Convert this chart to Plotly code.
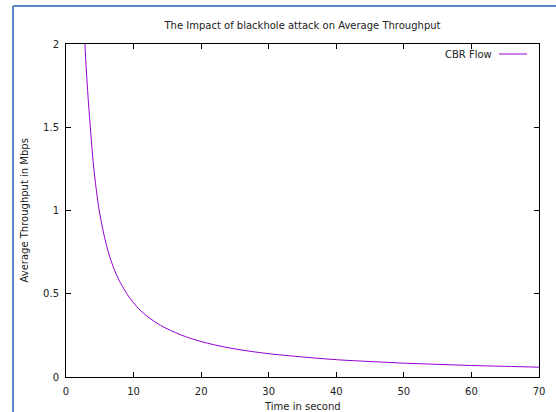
import plotly.graph_objects as go

# Data
time_s = [2.5, 2.8, 3.2, 3.6, 4, 4.5, 5, 6, 7, 8, 9, 10, 11, 12, 14, 17, 20,
          24, 29, 34, 40, 45, 50, 55, 60, 65, 70]
throughput = [2.4, 2.0, 1.72, 1.5, 1.3, 1.12, 0.98, 0.79, 0.66, 0.57, 0.50, 0.445,
              0.40, 0.365, 0.31, 0.253, 0.213, 0.176, 0.145, 0.124, 0.104, 0.093,
              0.083, 0.076, 0.069, 0.064, 0.059]
x_ticks = [0, 10, 20, 30, 40, 50, 60, 70]
y_ticks = [0, 0.5, 1, 1.5, 2]
y_tick_text = ["0", "0.5", "1", "1.5", "2"]

W, H = 556, 412
L, R, T, B = 66, 17, 44, 35
pw, ph = W - L - R, H - T - B

FONT = "DejaVu Sans"
LINE_COLOR = "#9400d3"
TXT = "#222"

fig = go.Figure()
fig.add_trace(go.Scatter(
    x=time_s, y=throughput, mode="lines", name="CBR Flow",
    line=dict(color=LINE_COLOR, width=1, shape="spline", smoothing=1.0),
    showlegend=False,
))

axis_common = dict(
    showgrid=False, zeroline=False, showline=True, linecolor="black", linewidth=1,
    mirror="allticks", ticks="inside", ticklen=5, tickcolor="black", tickwidth=1,
    tickfont=dict(family=FONT, size=10, color=TXT), automargin=False,
)

fig.update_layout(
    width=W, height=H,
    margin=dict(l=L, r=R, t=T, b=B),
    paper_bgcolor="white", plot_bgcolor="white",
    font=dict(family=FONT, size=10, color=TXT),
    title=dict(text="The Impact of blackhole attack on Average Throughput",
               x=0.5, xref="paper", y=1 - 25 / H, yref="container",
               xanchor="center", yanchor="middle",
               font=dict(family=FONT, size=10, color=TXT)),
    xaxis=dict(range=[0, 70], tickvals=x_ticks, ticktext=[str(v) for v in x_ticks],
               ticklabelstandoff=5, **axis_common),
    yaxis=dict(range=[0, 2], tickvals=y_ticks, ticktext=y_tick_text,
               ticklabelstandoff=4, **axis_common),
)

# axis titles
fig.add_annotation(text="Time in second", xref="paper", yref="paper",
                   x=0.5, y=(H - B - 406) / ph, xanchor="center", yanchor="middle",
                   showarrow=False, font=dict(family=FONT, size=10, color=TXT))
fig.add_annotation(text="Average Throughput in Mbps", xref="paper", yref="paper",
                   x=(24 - L) / pw, y=0.5, xanchor="center", yanchor="middle",
                   textangle=-90, showarrow=False,
                   font=dict(family=FONT, size=10, color=TXT))

# gnuplot-style key: text followed by line sample
key_y = 1 - (54 - T) / ph
fig.add_annotation(text="CBR Flow", xref="paper", yref="paper",
                   x=(494 - L) / pw, y=key_y, xanchor="right", yanchor="middle",
                   showarrow=False, font=dict(family=FONT, size=10, color=TXT))
fig.add_shape(type="line", xref="paper", yref="paper",
              x0=(499 - L) / pw, x1=(527 - L) / pw, y0=key_y, y1=key_y,
              line=dict(color=LINE_COLOR, width=1))

# blue frame (screenshot border) on the left and top
fig.add_shape(type="line", xref="paper", yref="paper",
              x0=(13 - L) / pw, x1=(13 - L) / pw, y0=(H - B - H) / ph, y1=(H - B - 6) / ph,
              line=dict(color="#5b87c5", width=2))
fig.add_shape(type="line", xref="paper", yref="paper",
              x0=(13 - L) / pw, x1=(W - L) / pw, y0=(H - B - 6) / ph, y1=(H - B - 6) / ph,
              line=dict(color="#5b87c5", width=2))

fig.write_html("out.html")
